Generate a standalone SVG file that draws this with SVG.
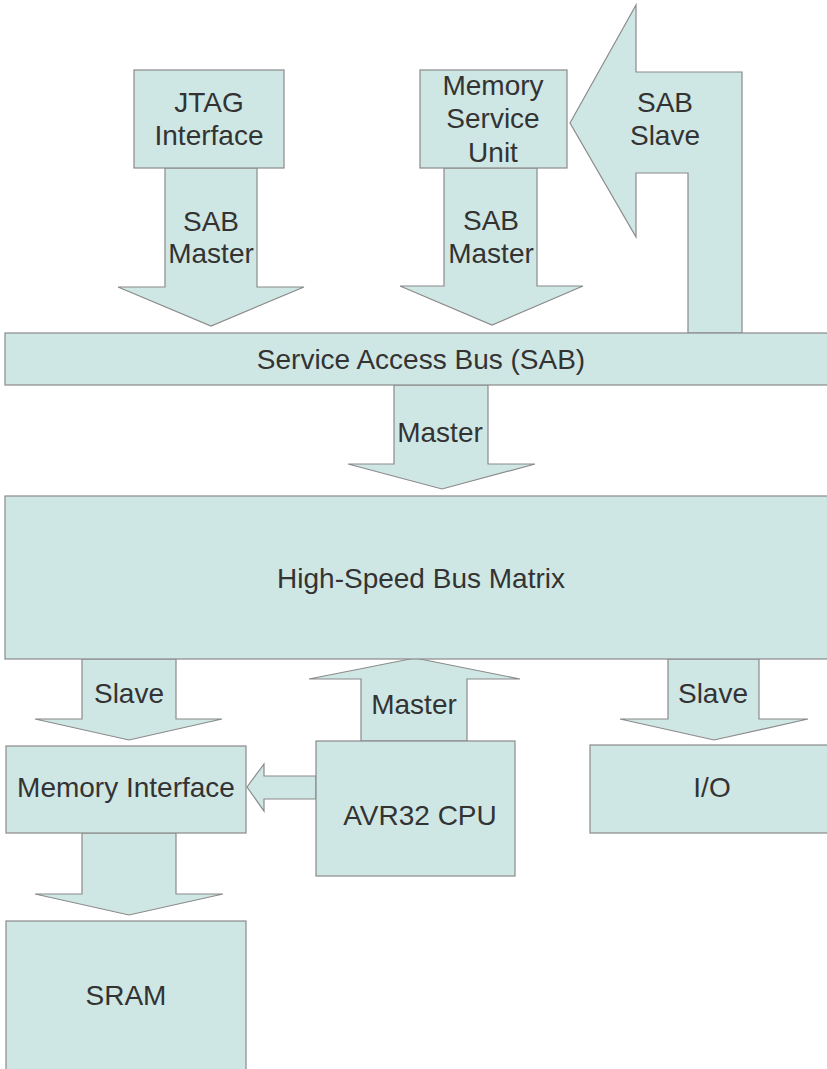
<svg xmlns="http://www.w3.org/2000/svg" width="827" height="1069" viewBox="0 0 827 1069">
<style>
.b{fill:#cfe7e4;stroke:#8a8a8a;stroke-width:1.2}
.t{font-family:"Liberation Sans",Arial,sans-serif;font-size:28px;fill:#333;text-anchor:middle}
</style>
<rect width="827" height="1069" fill="#fff"/>
<g id="connectors">
<polygon class="b" points="165,168 257,168 257,287 304,287 211,326 118,287 165,287"/>
<polygon class="b" points="444,168 537,168 537,286 583,286 492,325 400,286 444,286"/>
<polygon class="b" points="570,123 636,5 636,72 742,72 742,333 688,333 688,173 636,173 636,237"/>
<polygon class="b" points="394,385 488,385 488,464 535,464 442,489 348,464 394,464"/>
<polygon class="b" points="82,659 176,659 176,719 222,719 129,740 35,719 82,719"/>
<polygon class="b" points="415,658 520,679 467,679 467,741 361,741 361,679 309,679"/>
<polygon class="b" points="668,659 759,659 759,719 808,719 714,740 620,719 668,719"/>
<polygon class="b" points="82,833 176,833 176,894 223,894 129,915 35,894 82,894"/>
<polygon class="b" points="247,787 264,764 264,776 316,776 316,799 264,799 264,811"/>
<text class="t" x="211" y="231">SAB</text>
<text class="t" x="211" y="263">Master</text>
<text class="t" x="491" y="230">SAB</text>
<text class="t" x="491" y="263">Master</text>
<text class="t" x="665" y="112">SAB</text>
<text class="t" x="665" y="145">Slave</text>
<text class="t" x="440" y="442">Master</text>
<text class="t" x="129" y="703">Slave</text>
<text class="t" x="414" y="714">Master</text>
<text class="t" x="713" y="703">Slave</text>
</g>
<g id="jtag">
<rect class="b" x="134" y="70" width="150" height="98"/>
<text class="t" x="209" y="112">JTAG</text>
<text class="t" x="209" y="145">Interface</text>
</g>
<g id="msu">
<rect class="b" x="420" y="70" width="147" height="98"/>
<text class="t" x="493" y="95">Memory</text>
<text class="t" x="493" y="128">Service</text>
<text class="t" x="493" y="162">Unit</text>
</g>
<g id="sab">
<rect class="b" x="5" y="333" width="840" height="52"/>
<text class="t" x="421" y="369">Service Access Bus (SAB)</text>
</g>
<g id="hsbm">
<rect class="b" x="5" y="496" width="840" height="163"/>
<text class="t" x="421" y="588">High-Speed Bus Matrix</text>
</g>
<g id="memif">
<rect class="b" x="6" y="746" width="240" height="87"/>
<text class="t" x="126" y="797">Memory Interface</text>
</g>
<g id="cpu">
<rect class="b" x="316" y="741" width="199" height="135"/>
<text class="t" x="420" y="825">AVR32 CPU</text>
</g>
<g id="io">
<rect class="b" x="590" y="745" width="250" height="88"/>
<text class="t" x="712" y="797">I/O</text>
</g>
<g id="sram">
<rect class="b" x="6" y="921" width="240" height="160"/>
<text class="t" x="126" y="1005">SRAM</text>
</g>
</svg>
